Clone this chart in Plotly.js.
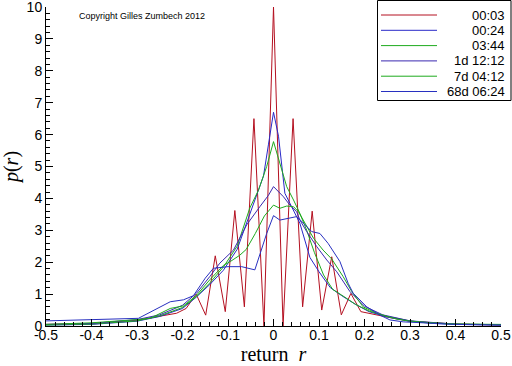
<!DOCTYPE html>
<html>
<head>
<meta charset="utf-8">
<script src="https://cdn.plot.ly/plotly-3.0.1.min.js"></script>
<style>html,body{margin:0;padding:0;background:#fff;}#chart{width:512px;height:366px;}</style>
</head>
<body>
<div id="chart"></div>
<script>
// ---- data ----
const seriesNames = ["00:03", "00:24", "03:44", "1d 12:12", "7d 04:12", "68d 06:24"];

const r_0003 = [-0.5, -0.4, -0.3, -0.25, -0.213, -0.192,
  -0.170, -0.149, -0.128, -0.106, -0.085, -0.064, -0.043, -0.021, 0,
  0.021, 0.043, 0.064, 0.085, 0.106, 0.128, 0.149, 0.170,
  0.192, 0.213, 0.25, 0.3, 0.4, 0.5];
const p_0003 = [0.05, 0.08, 0.18, 0.3, 0.4, 0.55,
  1.0, 0.34, 2.2, 0.45, 3.62, 0.6, 6.5, 0.0, 10.0,
  0.0, 6.5, 0.6, 3.6, 0.5, 2.17, 0.35, 1.02,
  0.45, 0.38, 0.28, 0.15, 0.06, 0.03];

const r_0024 = [-0.5, -0.4, -0.3, -0.25, -0.2, -0.17, -0.14, -0.11, -0.08, -0.055, -0.04, -0.022, -0.011, 0,
  0.011, 0.025, 0.036, 0.047, 0.058, 0.08, 0.1, 0.125, 0.15, 0.18, 0.21, 0.25, 0.3, 0.35, 0.4, 0.5];
const p_0024 = [0.03, 0.05, 0.15, 0.3, 0.55, 0.9, 1.3, 1.75, 2.4, 3.4, 4.05, 4.7, 5.7, 6.7,
  5.95, 4.16, 3.85, 3.53, 3.22, 2.15, 1.7, 1.2, 0.95, 0.68, 0.45, 0.28, 0.15, 0.08, 0.05, 0.03];

const r_0344 = [-0.5, -0.4, -0.3, -0.25, -0.2, -0.17, -0.14, -0.11, -0.08, -0.052, -0.033, -0.015, 0,
  0.018, 0.029, 0.044, 0.058, 0.073, 0.09, 0.11, 0.13, 0.155, 0.18, 0.21, 0.25, 0.3, 0.35, 0.4, 0.5];
const p_0344 = [0.03, 0.06, 0.16, 0.32, 0.58, 0.92, 1.35, 1.85, 2.5, 3.7, 4.26, 5.0, 5.78,
  4.89, 4.37, 3.95, 3.53, 3.0, 2.3, 1.6, 1.15, 0.92, 0.68, 0.47, 0.3, 0.16, 0.09, 0.06, 0.04];

const r_1d = [-0.5, -0.4, -0.3, -0.25, -0.2, -0.169, -0.14, -0.118, -0.088, -0.059, -0.03, -0.011, 0,
  0.022, 0.036, 0.051, 0.058, 0.073, 0.095, 0.117, 0.139, 0.168, 0.2, 0.24, 0.3, 0.35, 0.4, 0.5];
const p_1d = [0.05, 0.08, 0.2, 0.35, 0.65, 1.03, 1.55, 1.97, 2.38, 3.17, 3.74, 4.1, 4.37,
  4.05, 3.79, 3.58, 3.32, 2.96, 2.49, 2.07, 1.7, 1.08, 0.62, 0.35, 0.16, 0.1, 0.06, 0.04];

const r_7d = [-0.5, -0.4, -0.3, -0.271, -0.227, -0.198, -0.17, -0.14, -0.11, -0.095, -0.074, -0.06, -0.04, -0.02, 0,
  0.014, 0.029, 0.044, 0.055, 0.073, 0.088, 0.109, 0.128, 0.153, 0.172, 0.197, 0.23, 0.27, 0.3, 0.35, 0.4, 0.5];
const p_7d = [0.05, 0.1, 0.2, 0.24, 0.55, 0.63, 0.95, 1.45, 1.9, 2.02, 2.22, 2.4, 2.9, 3.45, 3.79,
  3.69, 3.76, 3.74, 3.58, 3.11, 2.75, 2.38, 2.1, 1.55, 1.08, 0.6, 0.38, 0.22, 0.15, 0.1, 0.06, 0.05];

const r_68d = [-0.5, -0.45, -0.375, -0.297, -0.227, -0.198, -0.176, -0.15, -0.132, -0.1, -0.07, -0.041, -0.015, 0,
  0.014, 0.036, 0.051, 0.066, 0.084, 0.102, 0.12, 0.146, 0.164, 0.175, 0.19, 0.205, 0.234, 0.256, 0.285, 0.35, 0.4, 0.5];
const p_68d = [0.16, 0.18, 0.21, 0.24, 0.76, 0.82, 0.95, 1.5, 1.81, 1.86, 1.86, 1.76, 2.9, 3.46,
  3.32, 3.38, 3.43, 3.22, 2.96, 2.9, 2.59, 2.02, 1.34, 1.03, 0.8, 0.6, 0.34, 0.19, 0.13, 0.08, 0.05, 0.03];

const xTickVals = [-0.5, -0.4, -0.3, -0.2, -0.1, 0, 0.1, 0.2, 0.3, 0.4, 0.5];
const xTickText = ["-0.5", "-0.4", "-0.3", "-0.2", "-0.1", "0", "0.1", "0.2", "0.3", "0.4", "0.5"];
const yTickVals = [0, 1, 2, 3, 4, 5, 6, 7, 8, 9, 10];

// ---- drawing ----
const xs = [r_0003, r_0024, r_0344, r_1d, r_7d, r_68d];
const ys = [p_0003, p_0024, p_0344, p_1d, p_7d, p_68d];
const colors = ["#b41020", "#2828c8", "#1eaa1e", "#3a28b0", "#1eaa1e", "#2830c0"];

const W = 512, H = 366, L = 46, R = 11, T = 7, B = 40;
const pw = W - L - R, ph = H - T - B;
const px = v => (v - L) / pw;          // pixel -> paper x
const py = v => (H - B - v) / ph;       // pixel -> paper y

const traces = xs.map((x, i) => ({
  x: x, y: ys[i], type: "scatter", mode: "lines", name: seriesNames[i],
  line: {color: colors[i], width: 1}, showlegend: false, hoverinfo: "skip"
}));

const shapes = [{
  type: "rect", xref: "paper", yref: "paper",
  x0: px(377.5), x1: px(511), y0: py(100.5), y1: py(0.5),
  line: {color: "#000", width: 1}, fillcolor: "#fff", layer: "above"
}];
const annotations = [{
  xref: "paper", yref: "paper", x: px(77), y: py(16), xanchor: "left", yanchor: "middle",
  text: "Copyright Gilles Zumbech 2012", showarrow: false,
  font: {family: "Liberation Sans, Arial, sans-serif", size: 9, color: "#000"}
}];
seriesNames.forEach((n, i) => {
  const yy = 15 + i * 15.3;
  shapes.push({type: "line", xref: "paper", yref: "paper",
    x0: px(381), x1: px(437), y0: py(yy), y1: py(yy),
    line: {color: colors[i], width: 1}, layer: "above"});
  annotations.push({xref: "paper", yref: "paper", x: px(507), y: py(yy),
    xanchor: "right", yanchor: "middle", text: n, showarrow: false,
    font: {family: "Liberation Sans, Arial, sans-serif", size: 13, color: "#000"}});
});

const layout = {
  width: W, height: H,
  margin: {l: L, r: R, t: T, b: B, pad: 0},
  paper_bgcolor: "#fff", plot_bgcolor: "#fff",
  showlegend: false,
  font: {family: "Liberation Sans, Arial, sans-serif", size: 14, color: "#000"},
  xaxis: {
    range: [-0.5, 0.5], tickmode: "array", tickvals: xTickVals, ticktext: xTickText,
    ticks: "inside", ticklen: 7, tickcolor: "#000", tickwidth: 1,
    ticklabelstandoff: -4, ticklabeloverflow: "allow",
    showline: true, linecolor: "#000", linewidth: 1, mirror: false,
    showgrid: false, zeroline: false, automargin: false,
    minor: {tickmode: "linear", tick0: 0, dtick: 0.02, ticks: "inside", ticklen: 4, tickcolor: "#000", showgrid: false},
    tickfont: {size: 14},
    title: {text: "return  <i>r</i>", standoff: 2,
      font: {family: "Liberation Serif, Times New Roman, serif", size: 20, color: "#000"}}
  },
  yaxis: {
    range: [0, 10], tickmode: "array", tickvals: yTickVals,
    ticks: "inside", ticklen: 7, tickcolor: "#000", tickwidth: 1,
    ticklabeloverflow: "allow",
    showline: true, linecolor: "#000", linewidth: 1, mirror: false,
    showgrid: false, zeroline: false, automargin: false,
    minor: {tickmode: "linear", tick0: 0, dtick: 0.2, ticks: "inside", ticklen: 4, tickcolor: "#000", showgrid: false},
    tickfont: {size: 14},
    title: {text: "<i>p</i>(<i>r</i>)", standoff: 10,
      font: {family: "Liberation Serif, Times New Roman, serif", size: 20, color: "#000"}}
  },
  shapes: shapes,
  annotations: annotations
};

Plotly.newPlot("chart", traces, layout, {staticPlot: true, displayModeBar: false});
</script>
</body>
</html>
